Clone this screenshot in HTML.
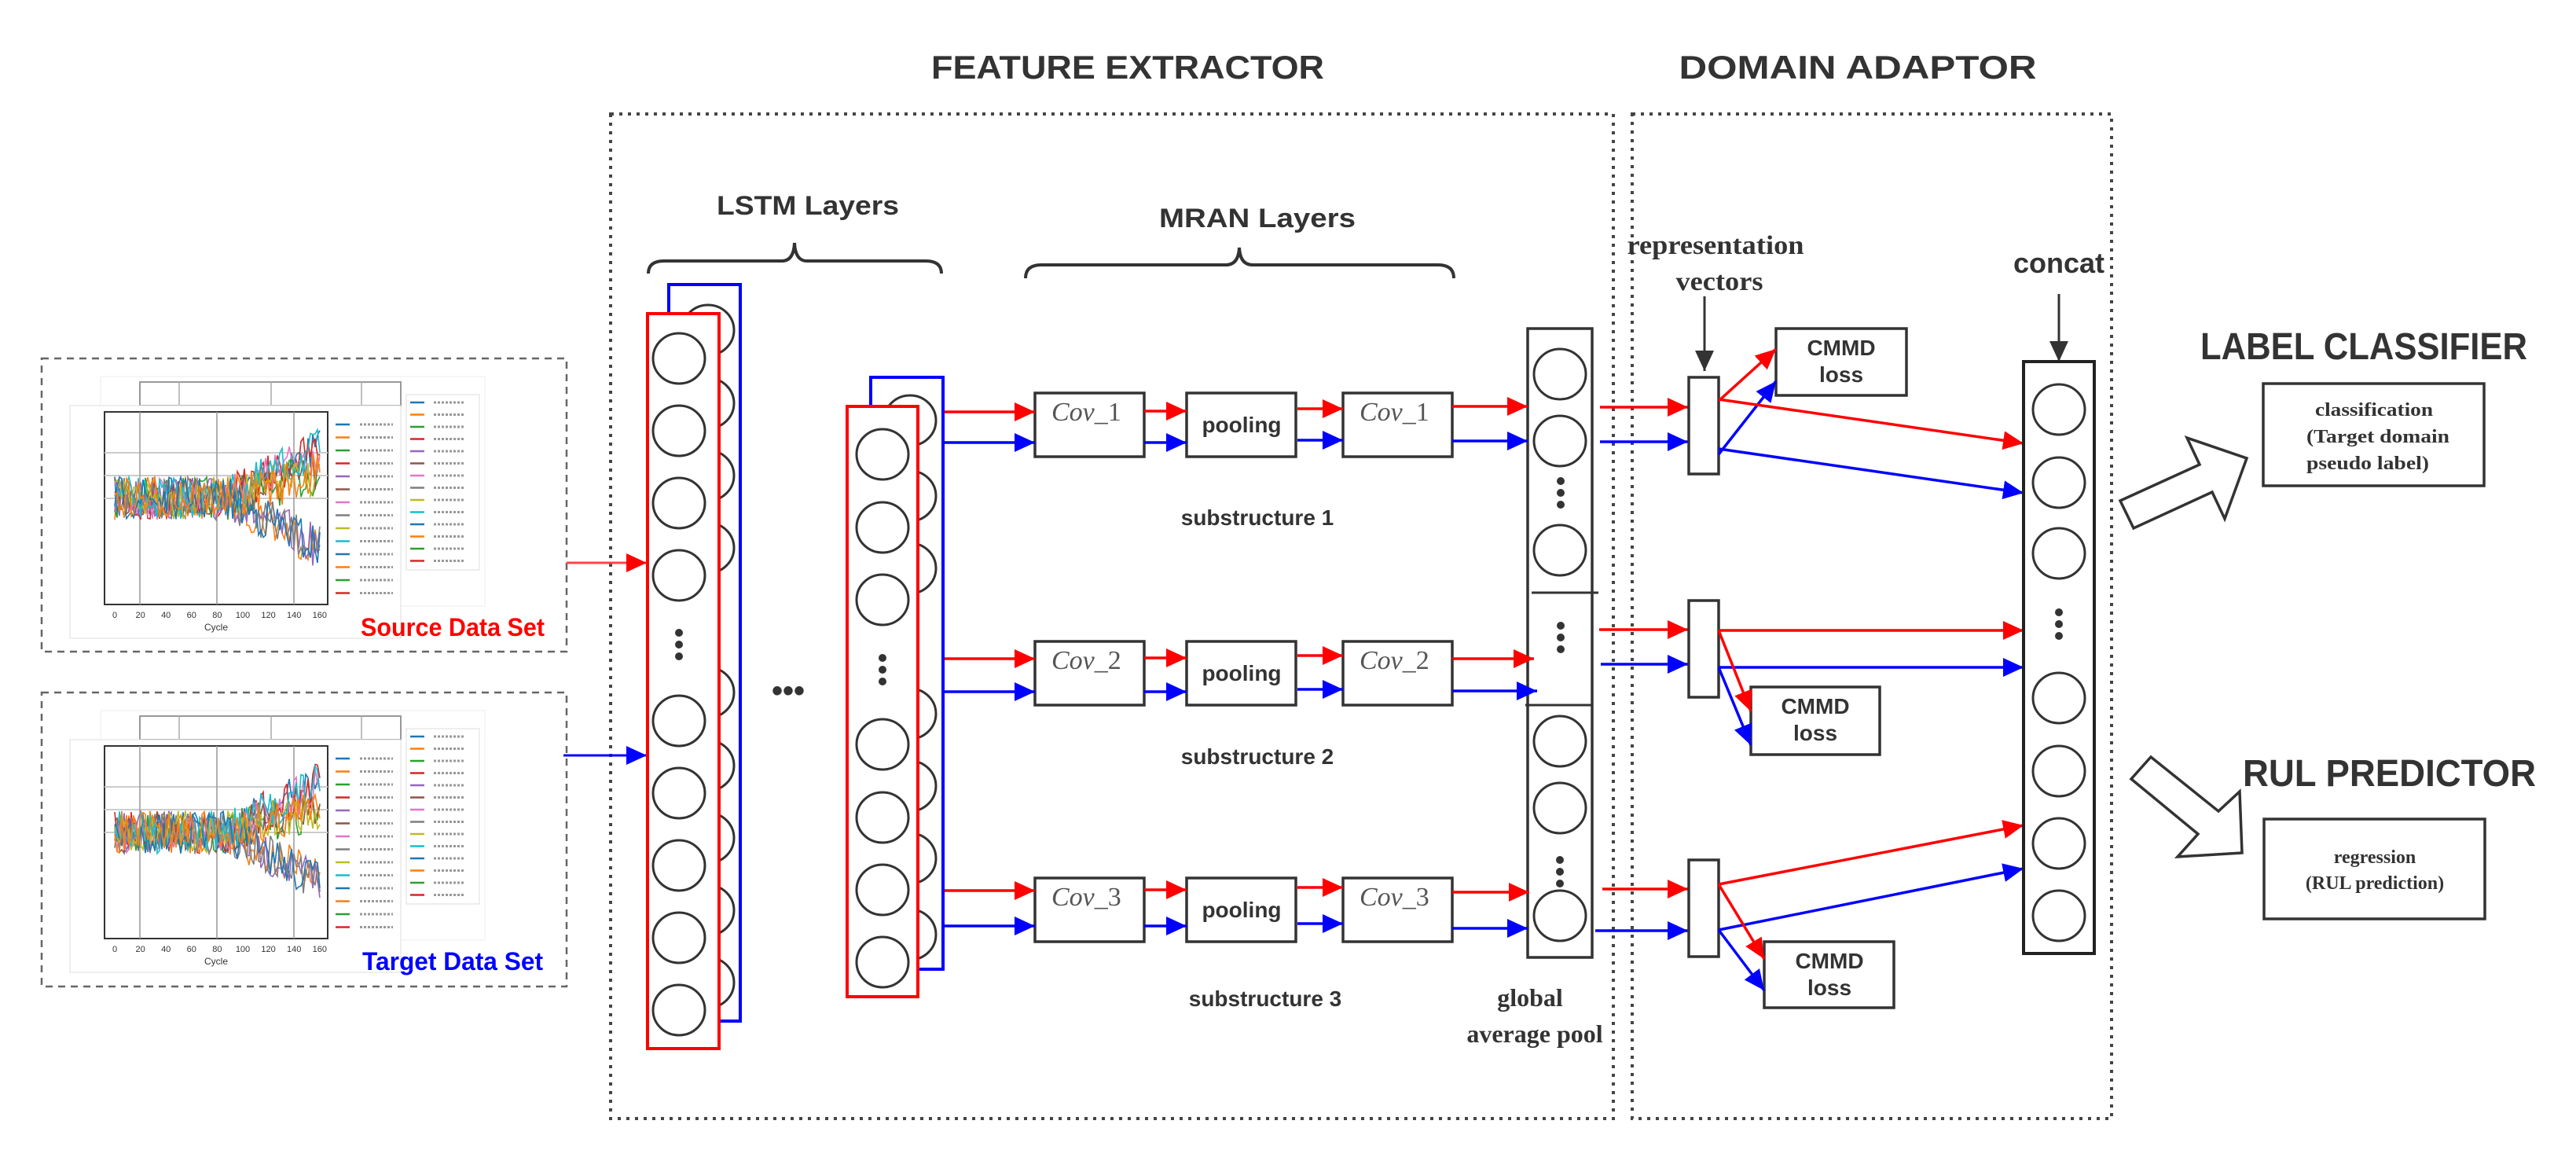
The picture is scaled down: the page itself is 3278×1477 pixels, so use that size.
<!DOCTYPE html>
<html><head><meta charset="utf-8">
<style>
html,body{margin:0;padding:0;background:#fff;}
svg{display:block;}
.sans{font-family:"Liberation Sans",sans-serif;}
.serif{font-family:"Liberation Serif",serif;}
</style></head>
<body>
<svg id="s" width="3278" height="1477" viewBox="0 0 3278 1477" xmlns="http://www.w3.org/2000/svg">
<defs>
<marker id="mr" markerUnits="userSpaceOnUse" markerWidth="28" markerHeight="26" refX="26" refY="12" orient="auto"><path d="M0,0 L26,12 L0,24 z" fill="#f00"/></marker>
<marker id="mb" markerUnits="userSpaceOnUse" markerWidth="28" markerHeight="26" refX="26" refY="12" orient="auto"><path d="M0,0 L26,12 L0,24 z" fill="#00f"/></marker>
<marker id="mk" markerUnits="userSpaceOnUse" markerWidth="28" markerHeight="26" refX="26" refY="12" orient="auto"><path d="M0,0 L26,12 L0,24 z" fill="#333"/></marker>
</defs>

<!-- titles -->
<text x="1435" y="100" class="sans" font-weight="bold" font-size="42" fill="#333" text-anchor="middle" textLength="500" lengthAdjust="spacingAndGlyphs">FEATURE EXTRACTOR</text>
<text x="2364" y="100" class="sans" font-weight="bold" font-size="42" fill="#333" text-anchor="middle" textLength="455" lengthAdjust="spacingAndGlyphs">DOMAIN ADAPTOR</text>

<!-- dotted boxes -->
<rect x="777" y="145" width="1276" height="1278" fill="none" stroke="#444" stroke-width="4" stroke-dasharray="4 7"/>
<rect x="2077" y="145" width="610" height="1278" fill="none" stroke="#444" stroke-width="4" stroke-dasharray="4 7"/>

<!-- source / target dashed boxes -->
<rect x="53" y="456" width="668" height="373" fill="none" stroke="#666" stroke-width="2.5" stroke-dasharray="9 7"/>
<rect x="53" y="881" width="668" height="374" fill="none" stroke="#666" stroke-width="2.5" stroke-dasharray="9 7"/>
<g id="charts"></g>
<text x="459" y="809" class="sans" font-weight="bold" font-size="32" fill="#f00" textLength="234" lengthAdjust="spacingAndGlyphs">Source Data Set</text>
<text x="461" y="1234" class="sans" font-weight="bold" font-size="32" fill="#00f" textLength="230" lengthAdjust="spacingAndGlyphs">Target Data Set</text>

<line x1="721" y1="716" x2="823" y2="716" stroke="#f44" stroke-width="3" marker-end="url(#mr)"/>
<line x1="717" y1="961" x2="823" y2="961" stroke="#00f" stroke-width="3" marker-end="url(#mb)"/>

<!-- LSTM labels -->
<text x="1028" y="273" class="sans" font-weight="bold" font-size="34" fill="#333" text-anchor="middle" textLength="232" lengthAdjust="spacingAndGlyphs">LSTM Layers</text>
<path d="M825,348 Q825,332 845,332 L995,332 Q1010,332 1011,309 Q1012,332 1027,332 L1178,332 Q1198,332 1198,348" fill="none" stroke="#333" stroke-width="4"/>
<text x="1600" y="289" class="sans" font-weight="bold" font-size="34" fill="#333" text-anchor="middle" textLength="250" lengthAdjust="spacingAndGlyphs">MRAN Layers</text>
<path d="M1305,354 Q1305,337 1325,337 L1560,337 Q1576,337 1577,315 Q1578,337 1594,337 L1830,337 Q1850,337 1850,354" fill="none" stroke="#333" stroke-width="4"/>

<g id="lstm"></g>
<text x="1003" y="892" class="sans" font-weight="bold" font-size="40" fill="#333" text-anchor="middle">•••</text>

<g id="mran"></g>

<text x="1600" y="668" class="sans" font-weight="bold" font-size="28" fill="#333" text-anchor="middle">substructure 1</text>
<text x="1600" y="972" class="sans" font-weight="bold" font-size="28" fill="#333" text-anchor="middle">substructure 2</text>
<text x="1610" y="1280" class="sans" font-weight="bold" font-size="28" fill="#333" text-anchor="middle">substructure 3</text>
<text x="1947" y="1280" class="serif" font-weight="bold" font-size="32" fill="#333" text-anchor="middle">global</text>
<text x="1953" y="1326" class="serif" font-weight="bold" font-size="32" fill="#333" text-anchor="middle">average pool</text>

<!-- domain adaptor -->
<text x="2183" y="323" class="serif" font-weight="bold" font-size="34" fill="#333" text-anchor="middle" textLength="225" lengthAdjust="spacingAndGlyphs">representation</text>
<text x="2188" y="369" class="serif" font-weight="bold" font-size="34" fill="#333" text-anchor="middle" textLength="111" lengthAdjust="spacingAndGlyphs">vectors</text>
<line x1="2169" y1="377" x2="2169" y2="472" stroke="#333" stroke-width="3" marker-end="url(#mk)"/>
<text x="2620" y="347" class="sans" font-weight="bold" font-size="36" fill="#333" text-anchor="middle">concat</text>
<line x1="2620" y1="374" x2="2620" y2="460" stroke="#333" stroke-width="3" marker-end="url(#mk)"/>

<g id="dom"></g>

<g class="sans" font-weight="bold" font-size="28" fill="#333" text-anchor="middle">
<text x="2343" y="452">CMMD</text><text x="2343" y="486">loss</text>
<text x="2310" y="908">CMMD</text><text x="2310" y="942">loss</text>
<text x="2328" y="1232">CMMD</text><text x="2328" y="1266">loss</text>
</g>

<!-- right side -->
<polygon points="2698,637 2799,591 2783,557 2859,583 2831,660 2815,626 2715,672" fill="#fff" stroke="#333" stroke-width="3.5"/>
<polygon points="2712,991 2737,963 2823,1032 2850,1007 2853,1085 2771,1090 2797,1061" fill="#fff" stroke="#333" stroke-width="3.5"/>
<text x="2800" y="457" class="sans" font-weight="bold" font-size="48" fill="#333" textLength="416" lengthAdjust="spacingAndGlyphs">LABEL CLASSIFIER</text>
<text x="2854" y="1000" class="sans" font-weight="bold" font-size="48" fill="#333" textLength="373" lengthAdjust="spacingAndGlyphs">RUL PREDICTOR</text>
<rect x="2880" y="488" width="281" height="130" fill="#fff" stroke="#333" stroke-width="3.5"/>
<g class="serif" font-weight="bold" font-size="24" fill="#333">
<text x="2946" y="529" textLength="150" lengthAdjust="spacingAndGlyphs">classification</text>
<text x="2935" y="563" textLength="182" lengthAdjust="spacingAndGlyphs">(Target domain</text>
<text x="2935" y="597" textLength="156" lengthAdjust="spacingAndGlyphs">pseudo label)</text>
</g>
<rect x="2881" y="1042" width="281" height="127" fill="#fff" stroke="#333" stroke-width="3.5"/>
<g class="serif" font-weight="bold" font-size="24" fill="#333" text-anchor="middle">
<text x="3022" y="1098">regression</text>
<text x="3022" y="1131">(RUL prediction)</text>
</g>
</svg>
<script>
(function(){
var NS="http://www.w3.org/2000/svg";
function el(p,t,a){var e=document.createElementNS(NS,t);for(var k in a)e.setAttribute(k,a[k]);p.appendChild(e);return e;}
function circ(p,cx,cy){el(p,"ellipse",{cx:cx,cy:cy,rx:33,ry:32,fill:"#fff",stroke:"#333","stroke-width":3});}
function dots(p,cx,cy){[-15,0,15].forEach(function(d){el(p,"circle",{cx:cx,cy:cy+d,r:5,fill:"#333"});});}
function arr(p,x1,y1,x2,y2,c){el(p,"line",{x1:x1,y1:y1,x2:x2,y2:y2,stroke:c=="r"?"#f00":"#00f","stroke-width":3.5,"marker-end":c=="r"?"url(#mr)":"url(#mb)"});}
var L=document.getElementById("lstm");
el(L,"rect",{x:851,y:362,width:91,height:937,fill:"none",stroke:"#00f","stroke-width":4});
[420,513,605,697,881,974,1066,1158,1250].forEach(function(y){circ(L,901,y);});
el(L,"rect",{x:824,y:399,width:91,height:935,fill:"#fff",stroke:"#f00","stroke-width":4});
[456,548,640,732,917,1009,1101,1193,1285].forEach(function(y){circ(L,864,y);});
dots(L,864,820);
el(L,"rect",{x:1108,y:480,width:92,height:753,fill:"none",stroke:"#00f","stroke-width":4});
[535,631,723,908,1000,1092,1189].forEach(function(y){circ(L,1158,y);});
el(L,"rect",{x:1078,y:517,width:90,height:751,fill:"#fff",stroke:"#f00","stroke-width":4});
[578,671,763,947,1040,1132,1224].forEach(function(y){circ(L,1123,y);});
dots(L,1123,852);
var M=document.getElementById("mran");
var rows=[{t:500,r:524,b:563,n:"1"},{t:816,r:838,b:880,n:"2"},{t:1117,r:1133,b:1178,n:"3"}];
rows.forEach(function(R){
 [[1317,"c"],[1510,"p"],[1709,"c"]].forEach(function(bx){
  el(M,"rect",{x:bx[0],y:R.t,width:139,height:81,fill:"#fff",stroke:"#333","stroke-width":3.5});
  if(bx[1]=="p"){var t=el(M,"text",{x:bx[0]+70,y:R.t+50,"text-anchor":"middle","font-family":"Liberation Sans,sans-serif","font-weight":"bold","font-size":28,fill:"#333"});t.textContent="pooling";}
  else{var t=el(M,"text",{x:bx[0]+21,y:R.t+35,"font-family":"Liberation Serif,serif","font-size":34,fill:"#555"});
   var a=el(t,"tspan",{"font-style":"italic"});a.textContent="Cov";var b=el(t,"tspan",{});b.textContent="_"+R.n;}
 });
 arr(M,1202,R.r,1317,R.r,"r");arr(M,1202,R.b,1317,R.b,"b");
 arr(M,1456,R.r-1,1510,R.r-1,"r");arr(M,1456,R.b,1510,R.b,"b");
 arr(M,1651,R.r-4,1709,R.r-4,"r");arr(M,1651,R.b-3,1709,R.b-3,"b");
});
el(M,"rect",{x:1944,y:418,width:82,height:800,fill:"#fff",stroke:"#333","stroke-width":3.5});
el(M,"line",{x1:1949,y1:754,x2:2034,y2:754,stroke:"#333","stroke-width":3});
el(M,"line",{x1:1941,y1:897,x2:2026,y2:897,stroke:"#333","stroke-width":3});
[476,561,700,943,1028,1165].forEach(function(y){circ(M,1985,y);});
dots(M,1986,627);dots(M,1986,811);dots(M,1985,1109);
arr(M,1848,517,1944,517,"r");arr(M,1848,561,1944,561,"b");
arr(M,1848,838,1952,838,"r");arr(M,1848,879,1956,879,"b");
arr(M,1848,1135,1946,1135,"r");arr(M,1848,1181,1944,1181,"b");
var D=document.getElementById("dom");
arr(D,2036,518,2148,518,"r");arr(D,2036,562,2148,562,"b");
arr(D,2035,801,2148,801,"r");arr(D,2037,845,2148,845,"b");
arr(D,2039,1131,2148,1131,"r");arr(D,2030,1184,2148,1184,"b");
[[480],[764],[1094]].forEach(function(r){el(D,"rect",{x:2149,y:r[0],width:38,height:123,fill:"#fff",stroke:"#333","stroke-width":3.5});});
el(D,"rect",{x:2260,y:418,width:166,height:85,fill:"#fff",stroke:"#333","stroke-width":3.5});
el(D,"rect",{x:2228,y:874,width:164,height:86,fill:"#fff",stroke:"#333","stroke-width":3.5});
el(D,"rect",{x:2245,y:1198,width:165,height:84,fill:"#fff",stroke:"#333","stroke-width":3.5});
arr(D,2187,510,2260,444,"r");arr(D,2187,578,2260,485,"b");
arr(D,2187,508,2575,564,"r");arr(D,2187,571,2575,627,"b");
arr(D,2187,802,2575,802,"r");arr(D,2187,849,2575,849,"b");
arr(D,2187,802,2228,905,"r");arr(D,2187,849,2228,948,"b");
arr(D,2187,1125,2575,1050,"r");arr(D,2187,1183,2575,1105,"b");
arr(D,2187,1125,2245,1220,"r");arr(D,2187,1183,2245,1260,"b");
el(D,"rect",{x:2575,y:460,width:90,height:753,fill:"#fff",stroke:"#222","stroke-width":4});
[521,614,704,888,981,1073,1165].forEach(function(y){circ(D,2620,y);});
dots(D,2620,794);
var C=document.getElementById("charts");
var seed=7;function rnd(){seed=(seed*16807)%2147483647;return seed/2147483647;}
var cols=["#1f77b4","#ff7f0e","#2ca02c","#d62728","#9467bd","#8c564b","#e377c2","#7f7f7f","#bcbd22","#17becf"];
function chart(dy){
 var g=el(C,"g",{transform:"translate(0,"+dy+")"});
 el(g,"rect",{x:128,y:479,width:489,height:292,fill:"#fff",stroke:"#eee","stroke-width":1});
 el(g,"rect",{x:178,y:486,width:332,height:30,fill:"none",stroke:"#999","stroke-width":2});
 [228,345,460].forEach(function(x){el(g,"line",{x1:x,y1:486,x2:x,y2:516,stroke:"#aaa","stroke-width":1.5});});
 el(g,"rect",{x:517,y:502,width:93,height:223,fill:"#fff",stroke:"#ddd","stroke-width":1});
 for(var i=0;i<14;i++){el(g,"line",{x1:522,y1:512+i*15.5,x2:540,y2:512+i*15.5,stroke:cols[i%10],"stroke-width":2.5});
  el(g,"line",{x1:552,y1:512+i*15.5,x2:592,y2:512+i*15.5,stroke:"#999","stroke-width":3,"stroke-dasharray":"3 2"});}
 el(g,"rect",{x:89,y:516,width:421,height:296,fill:"#fff",stroke:"#ddd","stroke-width":1});
 el(g,"rect",{x:133,y:524,width:284,height:245,fill:"none",stroke:"#333","stroke-width":2});
 [576,605,634].forEach(function(y){el(g,"line",{x1:133,y1:y,x2:417,y2:y,stroke:"#ccc","stroke-width":2});});
 [178,276,374].forEach(function(x){el(g,"line",{x1:x,y1:524,x2:x,y2:769,stroke:"#999","stroke-width":1.5});});
 for(var s=0;s<12;s++){
  var dir=(s%3==0)?1:((s%3==1)?-1:0.5);var pts=[];
  for(var x=146;x<=407;x+=3){var t=(x-146)/261;var base=634-(t>0.55?dir*(t-0.55)*2.2*29*2.2:0);
   pts.push(x+","+(base+(rnd()-0.5)*55).toFixed(1));}
  el(g,"polyline",{points:pts.join(" "),fill:"none",stroke:cols[s%10],"stroke-width":1.6});
 }
 var tx=el(g,"text",{x:275,y:802,"font-size":12,"font-family":"Liberation Sans,sans-serif",fill:"#333","text-anchor":"middle"});tx.textContent="Cycle";
 for(var i=0;i<9;i++){var t=el(g,"text",{x:146+i*32.6,y:786,"font-size":11,"font-family":"Liberation Sans,sans-serif",fill:"#333","text-anchor":"middle"});t.textContent=String(i*20);}
 for(var i=0;i<14;i++){el(g,"line",{x1:427,y1:540+i*16.5,x2:445,y2:540+i*16.5,stroke:cols[i%10],"stroke-width":2.5});
  el(g,"line",{x1:458,y1:540+i*16.5,x2:500,y2:540+i*16.5,stroke:"#999","stroke-width":3,"stroke-dasharray":"3 2"});}
}
chart(0);chart(425);
})();
</script>
</body></html>
